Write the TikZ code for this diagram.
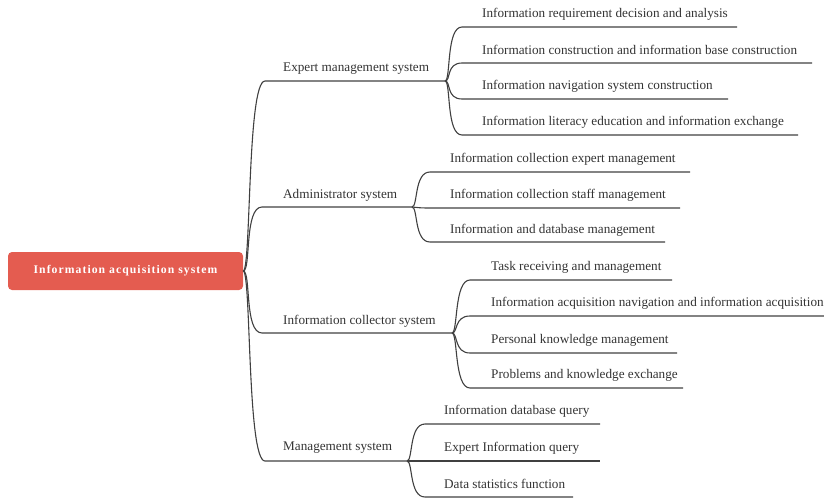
\documentclass[tikz,border=0pt]{standalone}
\usepackage{fontspec}
\setmainfont{Liberation Serif}
\definecolor{rootred}{HTML}{E45C50}
\definecolor{lncol}{HTML}{404040}
\definecolor{txtcol}{HTML}{333333}
\begin{document}
\begin{tikzpicture}[x=1pt,y=-1pt,
  rootbox/.style={fill=rootred,rounded corners=4pt,minimum width=235pt,minimum height=38pt,inner sep=0pt,text=white,font=\fontsize{11.7}{13}\selectfont\bfseries\addfontfeature{LetterSpace=9}},
  lbl/.style={anchor=west,inner sep=0pt,text=txtcol,font=\fontsize{13.2}{15}\selectfont},
  ln/.style={draw=lncol,line width=1.1pt},
  cv/.style={ln}]
\useasboundingbox (0,0) rectangle (824,498);
\node[rootbox] (root) at (125.5,271) {Information acquisition system};
% branches
\coordinate (bEs) at (265,81);  \coordinate (bEe) at (445,81);
\coordinate (bAs) at (262,207); \coordinate (bAe) at (412,207);
\coordinate (bCs) at (262,333); \coordinate (bCe) at (452,333);
\coordinate (bMs) at (265,461); \coordinate (bMe) at (407,461);
\node[lbl] (tE) at (283,69) {Expert management system};
\node[lbl] (tA) at (283,195) {Administrator system};
\node[lbl] (tC) at (283,321) {Information collector system};
\node[lbl] (tM) at (283,448) {Management system};
\foreach \b in {E,A,C,M}{
  \draw[cv] (root.east) .. controls +(8,0) and +(-18,0) .. (b\b s) -- (b\b e);
}
% expert leaves
\coordinate (e1s) at (462,27);  \coordinate (e1e) at (737,27);
\coordinate (e2s) at (462,63);  \coordinate (e2e) at (812,63);
\coordinate (e3s) at (462,99);  \coordinate (e3e) at (728,99);
\coordinate (e4s) at (462,135); \coordinate (e4e) at (798,135);
\node[lbl] (e1) at (482,14) {Information requirement decision and analysis};
\node[lbl] (e2) at (482,50) {Information construction and information base construction};
\node[lbl] (e3) at (482,86) {Information navigation system construction};
\node[lbl] (e4) at (482,122) {Information literacy education and information exchange};
\foreach \i in {1,2,3,4}{
  \draw[cv] (bEe) .. controls +(6,0) and +(-16,0) .. (e\i s) -- (e\i e);
}
% admin leaves
\coordinate (a1s) at (430,172); \coordinate (a1e) at (690,172);
\coordinate (a2s) at (430,208); \coordinate (a2e) at (680,208);
\coordinate (a3s) at (430,242); \coordinate (a3e) at (665,242);
\node[lbl] (a1) at (450,159) {Information collection expert management};
\node[lbl] (a2) at (450,195) {Information collection staff management};
\node[lbl] (a3) at (450,230) {Information and database management};
\foreach \i in {1,2,3}{
  \draw[cv] (bAe) .. controls +(6,0) and +(-16,0) .. (a\i s) -- (a\i e);
}
% collector leaves
\coordinate (c1s) at (470,280); \coordinate (c1e) at (672,280);
\coordinate (c2s) at (470,316); \coordinate (c2e) at (824,316);
\coordinate (c3s) at (470,353); \coordinate (c3e) at (677,353);
\coordinate (c4s) at (470,388); \coordinate (c4e) at (683,388);
\node[lbl] (c1) at (491,267) {Task receiving and management};
\node[lbl] (c2) at (491,303) {Information acquisition navigation and information acquisition};
\node[lbl] (c3) at (491,340) {Personal knowledge management};
\node[lbl] (c4) at (491,375) {Problems and knowledge exchange};
\foreach \i in {1,2,3,4}{
  \draw[cv] (bCe) .. controls +(6,0) and +(-16,0) .. (c\i s) -- (c\i e);
}
% management leaves
\coordinate (m1s) at (425,424); \coordinate (m1e) at (600,424);
\coordinate (m2s) at (425,461); \coordinate (m2e) at (600,461);
\coordinate (m3s) at (425,497); \coordinate (m3e) at (573,497);
\node[lbl] (m1) at (444,411) {Information database query};
\node[lbl] (m2) at (444,448) {Expert Information query};
\node[lbl] (m3) at (444,484) {Data statistics function};
\foreach \i in {1,2,3}{
  \draw[cv] (bMe) .. controls +(6,0) and +(-16,0) .. (m\i s) -- (m\i e);
}
\end{tikzpicture}
\end{document}
